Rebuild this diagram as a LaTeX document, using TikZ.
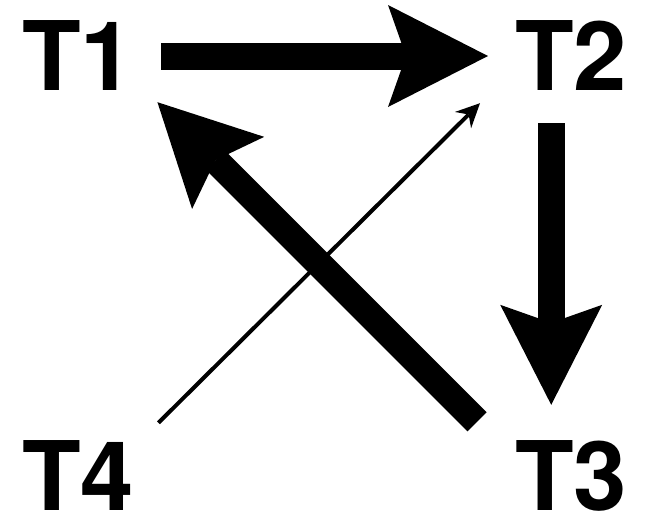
\documentclass[tikz,border=0pt]{standalone}
\usepackage{fontspec}
\setmainfont{TeX Gyre Heros}
\usepackage{tikz}
\usetikzlibrary{arrows.meta,positioning}
\tikzstyle{tlabel} = [font=\fontsize{96}{100}\selectfont\bfseries, inner sep=0pt, anchor=base west]
\tikzstyle{heavy} = [line width=27pt, -{Stealth[length=100pt, width=102pt, inset=18pt, line width=0pt]}]
\tikzstyle{light} = [line width=4pt, -{Stealth[length=24pt, width=23pt, inset=8pt, line width=0pt]}]

\begin{document}
\begin{tikzpicture}[x=1pt, y=-1pt]
\useasboundingbox (0,0) rectangle (646,518);

% Labels
\node[tlabel] (t1) at (22,91) {T1};
\node[tlabel] (t2) at (515,91) {T2};
\node[tlabel] (t3) at (515,511) {T3};
\node[tlabel] (t4) at (22,511) {T4};

% Arrows
\draw[heavy, shorten <=27pt, shorten >=27pt] (t1.east) -- (t2.west);
\draw[heavy, shorten <=32pt, shorten >=36pt] ([xshift=-20pt]t2.south) -- ([xshift=-20pt]t3.north);
\draw[heavy] ([shift={(-38,-19)}]t3.north west) -- ([shift={(23,11)}]t1.south east);
\draw[light] ([shift={(24,-18)}]t4.north east) -- ([shift={(-35,12)}]t2.south west);

\end{tikzpicture}
\end{document}
